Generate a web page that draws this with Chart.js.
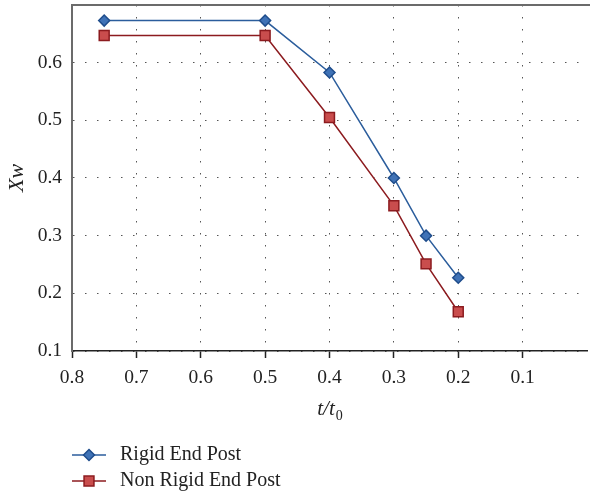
<!DOCTYPE html>
<html>
<head>
<meta charset="utf-8">
<script src="https://cdn.jsdelivr.net/npm/chart.js@4.4.0/dist/chart.umd.min.js"></script>
<style>
  html, body { margin: 0; padding: 0; background: #fff; }
  #wrap { width: 590px; height: 497px; }
</style>
</head>
<body>
<div id="wrap"><canvas id="xwChart"></canvas></div>
<script>
// thickness ratio t/t0 and the Xw values for both end post cases
const ratios = [0.75, 0.5, 0.4, 0.3, 0.25, 0.2];
const rigidXw = [0.673, 0.673, 0.583, 0.400, 0.300, 0.227];
const nonRigidXw = [0.647, 0.647, 0.505, 0.352, 0.251, 0.168];
const seriesNames = ['Rigid End Post', 'Non Rigid End Post'];
const xTicks = [0.8, 0.7, 0.6, 0.5, 0.4, 0.3, 0.2, 0.1];
const yTicks = [0.1, 0.2, 0.3, 0.4, 0.5, 0.6];

const serif = "'Liberation Serif', 'DejaVu Serif', serif";
const blueLine = '#2b5d9c', blueFill = '#3f72b6';
const redLine = '#8c1b1f', redFill = '#c94d4d';

function toPoints(ys) {
    return ratios.map((r, i) => ({ x: r, y: ys[i] }));
}

function near(list, v) {
    return list.some(t => Math.abs(t - v) < 1e-6);
}

// top frame line, x title with subscript and the legend below the axis
const extras = {
    id: 'extras',
    afterDraw(chart) {
        const ctx = chart.ctx;
        const area = chart.chartArea;
        ctx.save();

        ctx.strokeStyle = '#6b6b6b';
        ctx.lineWidth = 2;
        ctx.beginPath();
        ctx.moveTo(area.left - 1, area.top);
        ctx.lineTo(chart.width, area.top);
        ctx.stroke();

        // t/t0
        const cx = (area.left + area.right) / 2;
        ctx.fillStyle = '#222';
        ctx.textBaseline = 'alphabetic';
        ctx.font = 'italic 21px ' + serif;
        const main = 't/t';
        const w1 = ctx.measureText(main).width;
        ctx.font = '14px ' + serif;
        const w2 = ctx.measureText('0').width;
        const x0 = cx - (w1 + w2) / 2;
        ctx.font = 'italic 21px ' + serif;
        ctx.textAlign = 'left';
        ctx.fillText(main, x0, 415);
        ctx.font = '14px ' + serif;
        ctx.fillText('0', x0 + w1 + 1, 420);

        // legend
        const rows = [
            { y: 455, line: blueLine, fill: blueFill, border: '#1f4d8c', style: 'rectRot', r: 5.5 },
            { y: 481, line: redLine, fill: redFill, border: redLine, style: 'rect', r: 7 }
        ];
        rows.forEach((row, i) => {
            ctx.strokeStyle = row.line;
            ctx.lineWidth = 1.5;
            ctx.beginPath();
            ctx.moveTo(72, row.y);
            ctx.lineTo(106, row.y);
            ctx.stroke();
            ctx.fillStyle = row.fill;
            ctx.strokeStyle = row.border;
            Chart.helpers.drawPoint(ctx, { pointStyle: row.style, radius: row.r, borderWidth: 1.5 }, 89, row.y);
            ctx.fillStyle = '#222';
            ctx.font = '20px ' + serif;
            ctx.textBaseline = 'middle';
            ctx.fillText(seriesNames[i], 120, row.y);
        });
        ctx.restore();
    }
};

new Chart(document.getElementById('xwChart'), {
    type: 'scatter',
    data: {
        datasets: [{
            label: seriesNames[0],
            data: toPoints(rigidXw),
            showLine: true,
            borderColor: blueLine,
            borderWidth: 1.5,
            backgroundColor: blueFill,
            pointStyle: 'rectRot',
            pointRadius: 5.5,
            pointBorderWidth: 1.5,
            pointBorderColor: '#1f4d8c'
        }, {
            label: seriesNames[1],
            data: toPoints(nonRigidXw),
            showLine: true,
            borderColor: redLine,
            borderWidth: 1.5,
            backgroundColor: redFill,
            pointStyle: 'rect',
            pointRadius: 7,
            pointBorderWidth: 1.5,
            pointBorderColor: redLine
        }]
    },
    plugins: [extras],
    options: {
        responsive: true,
        maintainAspectRatio: false,
        animation: false,
        layout: { autoPadding: false, padding: { left: 0, right: 3, top: 5, bottom: 106 } },
        plugins: { legend: { display: false }, tooltip: { enabled: false } },
        scales: {
            x: {
                type: 'linear',
                reverse: true,
                min: 0,
                max: 0.8,
                afterFit(scale) {
                    scale.height = 40;
                    scale.paddingLeft = 0;
                    scale.paddingRight = 0;
                },
                afterBuildTicks(scale) {
                    scale.ticks = xTicks.concat([0]).map(v => ({ value: v }));
                },
                ticks: {
                    color: '#222',
                    font: { family: serif, size: 19.5 },
                    padding: 8,
                    maxRotation: 0,
                    callback: v => near(xTicks, v) ? v.toFixed(1) : ''
                },
                grid: {
                    color: ctx => (ctx.tick && ctx.tick.value === 0) ? 'rgba(0,0,0,0)' : '#555',
                    lineWidth: 1,
                    tickLength: 7,
                    tickWidth: 1.5,
                    tickColor: ctx => (ctx.tick && ctx.tick.value === 0) ? 'rgba(0,0,0,0)' : '#222',
                    tickBorderDash: []
                },
                border: { color: '#222', width: 1.5, dash: [1.5, 10.5] }
            },
            y: {
                min: 0.1,
                max: 0.7,
                afterFit(scale) {
                    scale.width = 72;
                    scale.paddingTop = 0;
                    scale.paddingBottom = 0;
                },
                afterBuildTicks(scale) {
                    scale.ticks = yTicks.concat([0.7]).map(v => ({ value: v }));
                },
                title: {
                    display: true,
                    text: 'Xw',
                    color: '#222',
                    font: { family: serif, size: 22, style: 'italic' },
                    padding: { top: 4, bottom: 0 }
                },
                ticks: {
                    color: '#222',
                    font: { family: serif, size: 19.5 },
                    padding: 10,
                    callback: v => near(yTicks, v) ? v.toFixed(1) : ''
                },
                grid: {
                    color: '#555',
                    lineWidth: 1,
                    drawTicks: false
                },
                border: { color: '#6b6b6b', width: 2, dash: [1.5, 10.5] }
            }
        }
    }
});
</script>
</body>
</html>
